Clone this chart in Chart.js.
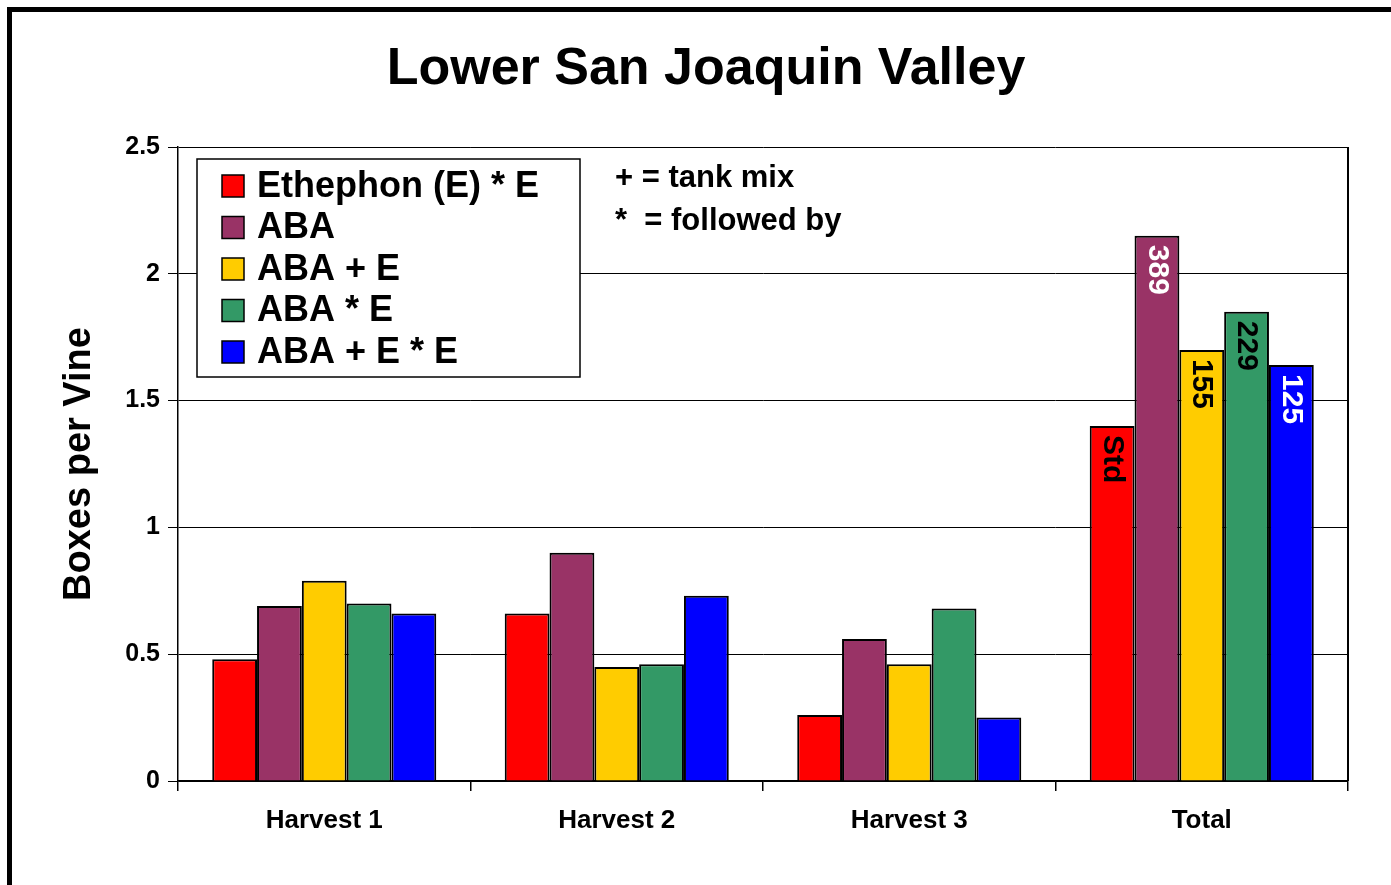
<!DOCTYPE html>
<html>
<head>
<meta charset="utf-8">
<script src="https://cdn.jsdelivr.net/npm/chart.js@4.4.1/dist/chart.umd.min.js"></script>
<style>
  html, body { margin: 0; padding: 0; background: #fff; }
  #wrap { position: relative; width: 1391px; height: 885px; overflow: hidden; }
  #frame { position: absolute; left: 7px; top: 7px; width: 1500px; height: 1000px;
           border-left: 5px solid #000; border-top: 5px solid #000; }
  canvas { position: absolute; left: 0; top: 0; }
</style>
</head>
<body>
<div id="wrap">
  <div id="frame"></div>
  <canvas id="chart" width="1391" height="885"></canvas>
</div>
<script>
var categories = ['Harvest 1', 'Harvest 2', 'Harvest 3', 'Total'];
var seriesNames = ['Ethephon (E) * E', 'ABA', 'ABA + E', 'ABA * E', 'ABA + E * E'];
var ethephon = [0.48, 0.66, 0.26, 1.40];
var aba      = [0.69, 0.90, 0.56, 2.15];
var abaTank  = [0.79, 0.45, 0.46, 1.70];
var abaThenE = [0.70, 0.46, 0.68, 1.85];
var abaTankThenE = [0.66, 0.73, 0.25, 1.64];
var totalLabels = ['Std', '389', '155', '229', '125'];
var yTicks = [0, 0.5, 1, 1.5, 2, 2.5];

var colors = ['#ff0000', '#993366', '#ffcc00', '#339966', '#0000ff'];
var labelColors = ['#000', '#fff', '#000', '#000', '#fff'];
var FONT = 'Arial, "Liberation Sans", Helvetica, sans-serif';

var allSeries = [ethephon, aba, abaTank, abaThenE, abaTankThenE];
var datasets = allSeries.map(function (vals, i) {
  return {
    label: seriesNames[i],
    data: vals,
    backgroundColor: colors[i],
    borderColor: '#000',
    borderWidth: 2
  };
});

// title, legend box, notes, plot frame and rotated labels on the Total bars
var decor = {
  id: 'decor',
  afterDatasetsDraw: function (chart) {
    var c = chart.ctx, a = chart.chartArea;
    c.save();

    // right edge of plot area
    c.strokeStyle = '#000';
    c.lineWidth = 2;
    c.beginPath();
    c.moveTo(a.right, a.top);
    c.lineTo(a.right, a.bottom);
    c.stroke();

    // labels inside the Total bars
    c.font = 'bold 30px ' + FONT;
    c.textAlign = 'left';
    c.textBaseline = 'middle';
    chart.data.datasets.forEach(function (ds, i) {
      var bar = chart.getDatasetMeta(i).data[3];
      c.save();
      c.translate(bar.x, bar.y + 9);
      c.rotate(Math.PI / 2);
      c.fillStyle = labelColors[i];
      c.fillText(totalLabels[i], 0, 0);
      c.restore();
    });

    // legend
    var lx = a.left + 19, ly = a.top + 12, lw = 383, lh = 218;
    c.fillStyle = '#fff';
    c.fillRect(lx, ly, lw, lh);
    c.lineWidth = 1.5;
    c.strokeRect(lx, ly, lw, lh);
    c.font = 'bold 36px ' + FONT;
    chart.data.datasets.forEach(function (ds, i) {
      var cy = ly + 27 + i * 41.5;
      c.fillStyle = ds.backgroundColor;
      c.fillRect(lx + 25, cy - 11, 22, 22);
      c.lineWidth = 1.5;
      c.strokeRect(lx + 25, cy - 11, 22, 22);
      c.fillStyle = '#000';
      c.fillText(ds.label, lx + 60, cy + 1);
    });

    // notes
    c.font = 'bold 31px ' + FONT;
    c.fillText('+ = tank mix', 615, 178);
    c.fillText('*  = followed by', 615, 221);

    // title
    c.font = 'bold 52px ' + FONT;
    c.textAlign = 'center';
    c.fillText('Lower San Joaquin Valley', 706, 70);
    c.restore();
  }
};

var ctx = document.getElementById('chart').getContext('2d');
var myChart = new Chart(ctx, {
  type: 'bar',
  data: {
    labels: categories,
    datasets: datasets
  },
  plugins: [decor],
  options: {
    responsive: false,
    animation: false,
    layout: { padding: { left: 0, top: 147, right: 43, bottom: 0 } },
    datasets: {
      bar: { categoryPercentage: 0.766, barPercentage: 1, borderSkipped: 'start' }
    },
    plugins: {
      legend: { display: false },
      title: { display: false },
      tooltip: { enabled: false }
    },
    scales: {
      x: {
        afterFit: function (s) { s.height = 104; },
        grid: { offset: true, drawOnChartArea: false, tickLength: 10, tickColor: '#000', lineWidth: 1.5 },
        border: { display: true, color: '#000', width: 1.5 },
        ticks: { color: '#000', padding: 14, font: { family: FONT, size: 26, weight: 'bold' } }
      },
      y: {
        min: 0,
        max: 2.5,
        afterFit: function (s) { s.width = 178; },
        afterBuildTicks: function (s) { s.ticks = yTicks.map(function (v) { return { value: v }; }); },
        grid: { color: '#000', lineWidth: 1, tickLength: 10, tickColor: '#000' },
        border: { display: true, color: '#000', width: 1.5 },
        ticks: {
          color: '#000',
          padding: 8,
          font: { family: FONT, size: 25, weight: 'bold' },
          callback: function (v) { return String(v); }
        },
        title: {
          display: true,
          text: 'Boxes per Vine',
          color: '#000',
          padding: { top: 57, bottom: 0 },
          font: { family: FONT, size: 38, weight: 'bold' }
        }
      }
    }
  }
});
</script>
</body>
</html>
